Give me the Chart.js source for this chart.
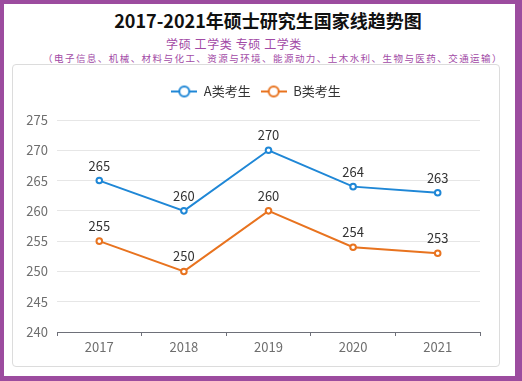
<!DOCTYPE html>
<html>
<head>
<meta charset="utf-8">
<script src="https://cdn.jsdelivr.net/npm/chart.js@4.4.1/dist/chart.umd.min.js"></script>
<style>
  html, body { margin:0; padding:0; background:#fff; }
  #frame { position:absolute; left:0; top:0; width:522px; height:381px; box-sizing:border-box;
    border-style:solid; border-color:#9c4c9f; border-width:4px 7px 5px 4px; background:#fff; }
  .t { position:absolute; white-space:nowrap; transform:translate(-50%,-50%); font-family:"Noto Sans CJK SC","Noto Sans",sans-serif; }
  #title { left:268px; top:20px; font-size:18px; font-weight:bold; color:#111; }
  #sub1 { left:234px; top:43px; font-size:12px; color:#a24aa6; letter-spacing:0.6px; }
  #sub2 { left:273px; top:58px; font-size:9.5px; color:#a24aa6; letter-spacing:1.45px; }
  #box { position:absolute; left:12px; top:64px; width:488px; height:303px; box-sizing:border-box;
    border:1px solid #dcdcdc; border-radius:4px; background:#fff; }
  #c { display:block; }
</style>
</head>
<body>
<div id="frame"></div>
<div class="t" id="title">2017-2021年硕士研究生国家线趋势图</div>
<div class="t" id="sub1">学硕 工学类 专硕 工学类</div>
<div class="t" id="sub2">（电子信息、机械、材料与化工、资源与环境、能源动力、土木水利、生物与医药、交通运输）</div>
<div id="box"><canvas id="c" width="486" height="301"></canvas></div>
<script>
const categories = ['2017', '2018', '2019', '2020', '2021'];
const seriesA = [265, 260, 270, 264, 263];
const seriesB = [255, 250, 260, 254, 253];
const seriesNames = ['A类考生', 'B类考生'];
const colors = ['#1f87d6', '#e8731f'];
const yTicks = [240, 245, 250, 255, 260, 265, 270, 275];

function legendIcon(color) {
  const cv = document.createElement('canvas');
  cv.width = 26; cv.height = 14;
  const g = cv.getContext('2d');
  g.strokeStyle = color; g.lineWidth = 2;
  g.beginPath(); g.moveTo(0, 7); g.lineTo(26, 7); g.stroke();
  g.beginPath(); g.arc(13, 7, 5, 0, Math.PI * 2);
  g.fillStyle = '#fff'; g.fill(); g.stroke();
  return cv;
}
const icons = colors.map(legendIcon);

const legendFit = {
  id: 'legendFit',
  beforeInit(chart) {
    const orig = chart.legend.fit;
    chart.legend.fit = function () { orig.bind(chart.legend)(); this.height += 12; };
  }
};

const valueLabels = {
  id: 'valueLabels',
  afterDatasetsDraw(chart) {
    const ctx = chart.ctx;
    ctx.save();
    ctx.font = '13px "Noto Sans CJK SC", "Noto Sans", sans-serif';
    ctx.fillStyle = '#333';
    ctx.textAlign = 'center';
    ctx.textBaseline = 'middle';
    chart.data.datasets.forEach((ds, i) => {
      chart.getDatasetMeta(i).data.forEach((pt, j) => {
        ctx.fillText(String(ds.data[j]), pt.x, pt.y - 15);
      });
    });
    ctx.restore();
  }
};

const fontFam = '"Noto Sans CJK SC", "Noto Sans", sans-serif';

new Chart(document.getElementById('c'), {
  type: 'line',
  data: {
    labels: categories,
    datasets: [seriesA, seriesB].map((d, i) => ({
      label: seriesNames[i],
      data: d,
      borderColor: colors[i],
      backgroundColor: '#fff',
      borderWidth: 2,
      pointRadius: 2.8,
      pointBorderWidth: 2,
      pointBackgroundColor: '#fff',
      pointBorderColor: colors[i],
      tension: 0,
      yAxisID: 'y'
    }))
  },
  options: {
    responsive: false,
    animation: false,
    layout: { padding: { left: 0, right: 0, top: 10, bottom: 0 } },
    plugins: {
      tooltip: { enabled: false },
      legend: {
        position: 'top',
        labels: {
          usePointStyle: true,
          pointStyleWidth: 26,
          padding: 10,
          color: '#333',
          font: { size: 13, family: fontFam },
          generateLabels(chart) {
            const items = Chart.defaults.plugins.legend.labels.generateLabels(chart);
            items.forEach((it, i) => { it.pointStyle = icons[i]; });
            return items;
          }
        }
      }
    },
    scales: {
      x: {
        offset: true,
        grid: { display: true, drawOnChartArea: false, drawTicks: true, tickLength: 4, color: '#6e7079', offset: true },
        border: { display: true, color: '#6e7079', width: 1 },
        ticks: { color: '#6e6e6e', font: { size: 13, family: fontFam }, padding: 3 },
        afterFit(s) { s.height = 34; }
      },
      y: {
        position: 'left',
        min: 240, max: 275,
        afterBuildTicks(s) { s.ticks = yTicks.map(v => ({ value: v })); },
        grid: { color: '#e6e6e6', drawTicks: false },
        border: { display: false },
        ticks: { color: '#6e6e6e', font: { size: 13, family: fontFam }, padding: 9 },
        afterFit(s) { s.width = 44; }
      },
      yr: {
        position: 'right',
        display: true,
        min: 240, max: 275,
        grid: { display: false, drawTicks: false },
        border: { display: false },
        ticks: { display: false },
        afterFit(s) { s.width = 19; }
      }
    }
  },
  plugins: [legendFit, valueLabels]
});
</script>
</body>
</html>
